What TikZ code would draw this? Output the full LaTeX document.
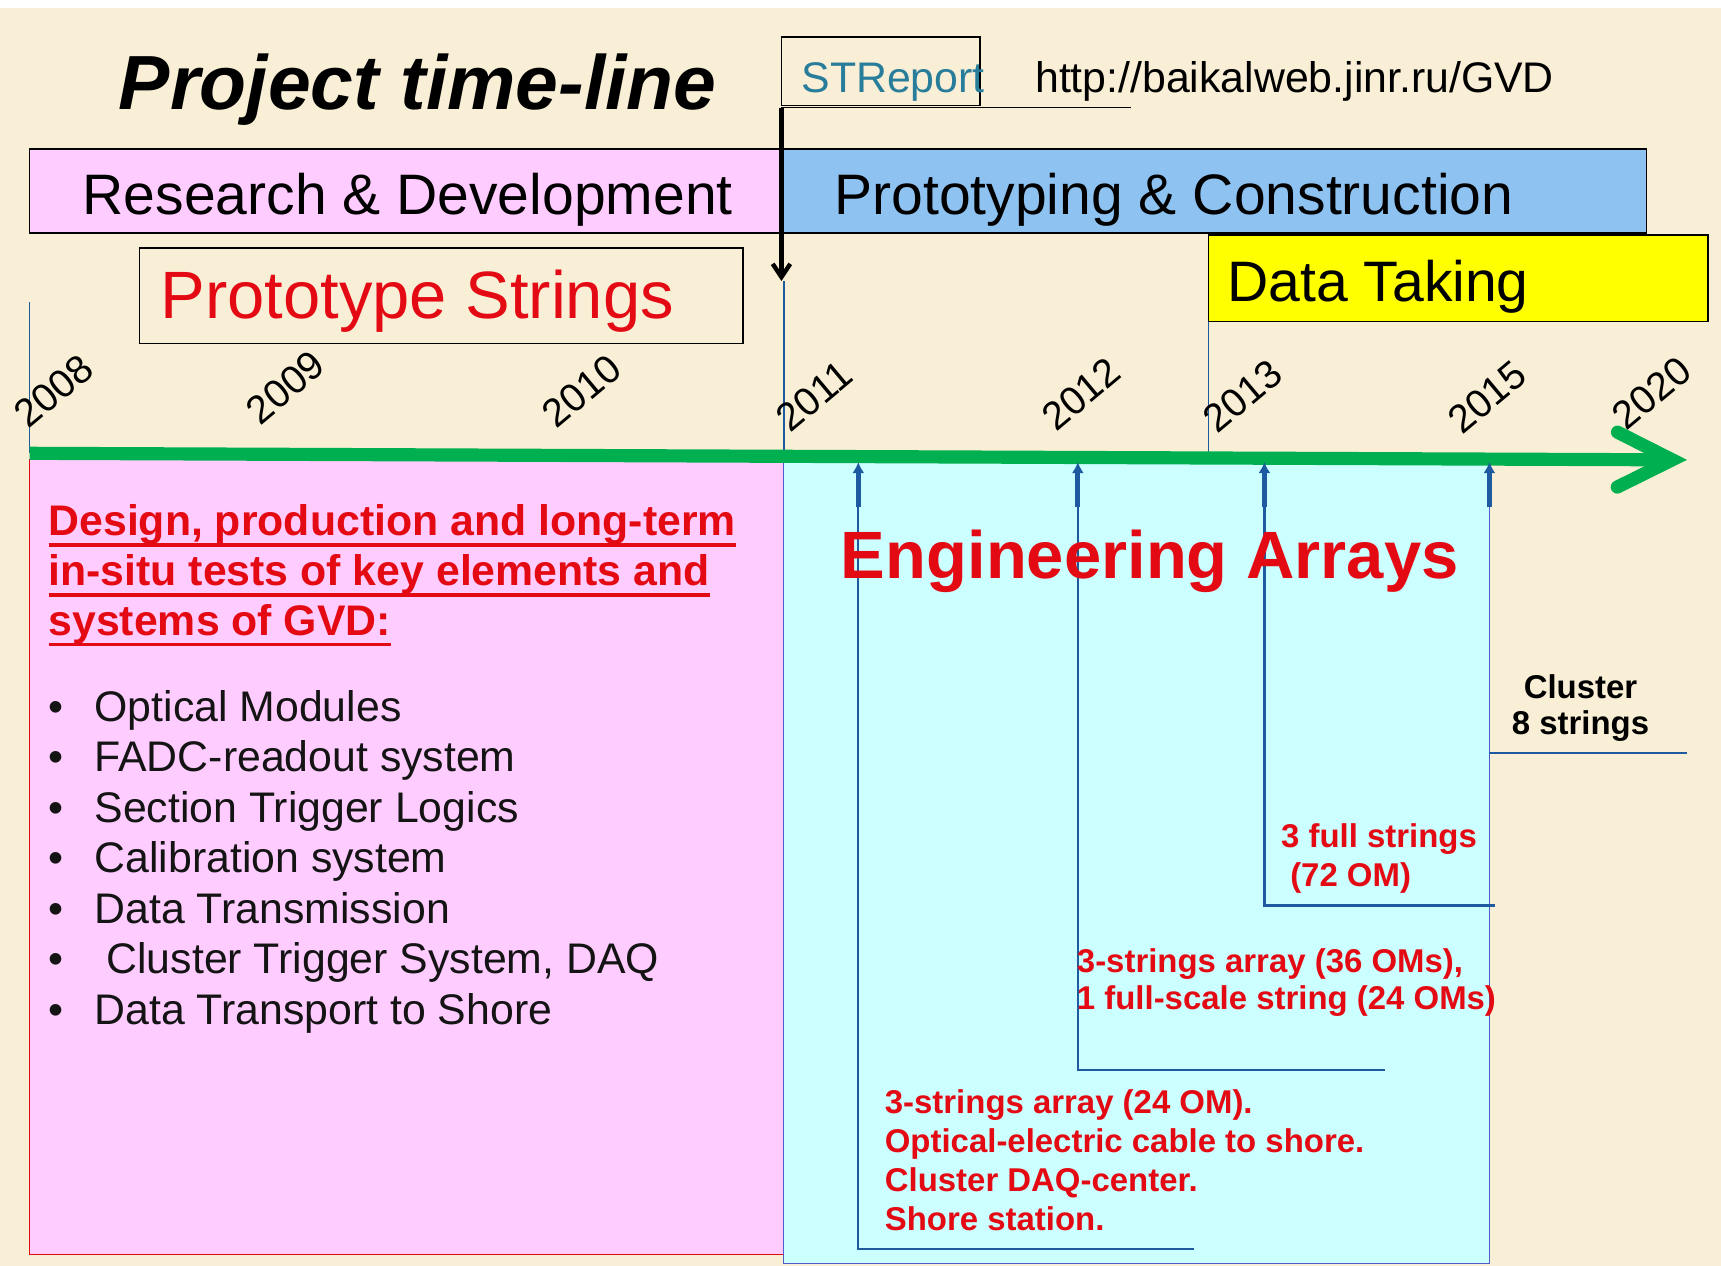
\documentclass[tikz,border=0pt]{standalone}
\usepackage{fontspec}
\setmainfont{Liberation Sans}
\usetikzlibrary{arrows.meta,positioning}

\definecolor{paper}{RGB}{249,239,214}
\definecolor{rdpink}{RGB}{255,204,255}
\definecolor{pcblue}{RGB}{142,194,240}
\definecolor{dtyellow}{RGB}{255,255,0}
\definecolor{eacyan}{RGB}{204,255,255}
\definecolor{eaedge}{RGB}{80,90,200}
\definecolor{tgreen}{RGB}{0,176,80}
\definecolor{tred}{RGB}{228,10,20}
\definecolor{teal}{RGB}{40,125,155}
\definecolor{dkblue}{RGB}{30,90,160}
\definecolor{ink}{RGB}{20,20,20}

\newcommand{\fsz}[2]{\fontsize{#1}{#2}\selectfont}
\newsavebox{\ulbox}
\newcommand{\ulred}[1]{\sbox{\ulbox}{#1}\rlap{\rule[-10pt]{\wd\ulbox}{3pt}}\usebox{\ulbox}}

\begin{document}
\begin{tikzpicture}[x=1pt,y=-1pt,inner sep=0pt,
  bar/.style={draw=black,line width=1.5},
  big/.style={anchor=base west,font=\fsz{52}{60}},
  yr/.style={rotate=40,font=\fsz{36}{36}},
  item/.style={anchor=base west,font=\fsz{39}{46},text=ink},
  note/.style={anchor=base west,align=left,text=tred,font=\bfseries\fsz{30}{35.5}},
  lead/.style={dkblue,line width=1.5},
  upar/.style={dkblue,line width=4.5,-{Latex[length=10pt,width=11pt]}}]
\useasboundingbox (0,0) rectangle (1568,1153);
\fill[paper] (0,0) rectangle (1568,1153);
\fill[white] (0,0) rectangle (1568,7);

\fill[rdpink] (27,418) rectangle (714,1143);
\draw[tred,line width=1.2] (27,418) |- (714,1143);
\draw[eaedge,fill=eacyan,line width=1.2] (714,419) rectangle (1357,1151);

\draw[lead] (27,275) -- (27,413);
\draw[lead] (714,256) -- (714,419);
\draw[lead] (1101,293) -- (1101,413);

\draw[tgreen,line width=12,-{Straight Barb[length=50pt,width=50pt,line cap=round]}] (27,413) -- (1537,419);

\foreach \n/\x in {1/782,2/982,3/1152,4/1357}{
  \coordinate (ft\n) at (\x,462);
  \coordinate (tip\n) at (\x,421);
  \draw[upar] (ft\n) -- (tip\n);
}
\coordinate (e1) at (1088,1138);
\coordinate (e2) at (1262,975);
\coordinate (e3) at (1362,825);
\coordinate (e4) at (1537,686);
\draw[lead] (ft1) |- (e1);
\draw[lead] (ft2) |- (e2);
\draw[dkblue,line width=3] (ft3) |- (e3);
\draw[lead] (ft4 |- e4) -- (e4);

\node (title) at (108,100) [anchor=base west,font=\bfseries\itshape\fsz{70}{80}] {Project time-line};
\draw[bar] (712,34) rectangle (893,96);
\node (strep) at (730,84) [anchor=base west,text=teal,font=\fsz{39}{44}] {STReport};
\node (url) at (943,84) [anchor=base west,font=\fsz{39}{44}] {http://baikalweb.jinr.ru/GVD};

\draw[bar,fill=rdpink] (27,136) rectangle (712,212);
\draw[bar,fill=pcblue] (712,136) rectangle (1500,212);
\draw[bar] (127,226) rectangle (677,313);
\draw[bar,fill=dtyellow] (1101,214) rectangle (1556,293);
\node (rd) at (75,195) [big] {Research \& Development};
\node (pc) at (760,195) [big] {Prototyping \& Construction};
\node (ps) at (146,290) [big,text=tred,font=\fsz{61}{70}] {Prototype Strings};
\node (dt) at (1118,275) [big] {Data Taking};

\coordinate (sr) at (712,98);
\coordinate (srtip) at (712,256);
\draw[black,line width=1.5] (sr) -- (1030,98);
\draw[black,line width=4,-{Straight Barb[length=12pt,width=16pt]}] (sr) -- (srtip);

\foreach \y/\x/\yy in {2008/49/356,2009/260/353,2010/530/356,2011/742/361,2012/985/359,2013/1132/361,2015/1355/362,2020/1505/358}
  \node (y\y) at (\x,\yy) [yr] {\y};

\node (head) at (44,579) [anchor=base west,align=left,text=tred,font=\bfseries\fsz{39}{45.5}]
  {\ulred{Design, production and long-term}\\\ulred{in-situ tests of key elements and}\\\ulred{systems of GVD:}};
\foreach \txt [count=\i] in {Optical Modules,FADC-readout system,Section Trigger Logics,Calibration system,Data Transmission,{\ Cluster Trigger System, DAQ},Data Transport to Shore}{
  \node (bul\i) at (44,{657+46*(\i-1)}) [item] {\textbullet};
  \node (item\i) at (86,{657+46*(\i-1)}) [item] {\txt};
}

\node (ea) at (766,527) [anchor=base west,text=tred,font=\bfseries\fsz{61}{70}] {Engineering Arrays};
\node (cl) at (1440,669) [anchor=base,align=center,font=\bfseries\fsz{30}{33}] {Cluster\\8 strings};
\node (fs) at (1167,808) [note] {3 full strings\\\ (72 OM)};
\node (ta) at (981,920) [note,font=\bfseries\fsz{30}{34}] {3-strings array (36 OMs),\\1 full-scale string (24 OMs)};
\node (ba) at (806,1121) [note] {3-strings array (24 OM).\\Optical-electric cable to shore.\\Cluster DAQ-center.\\Shore station.};
\end{tikzpicture}
\end{document}
